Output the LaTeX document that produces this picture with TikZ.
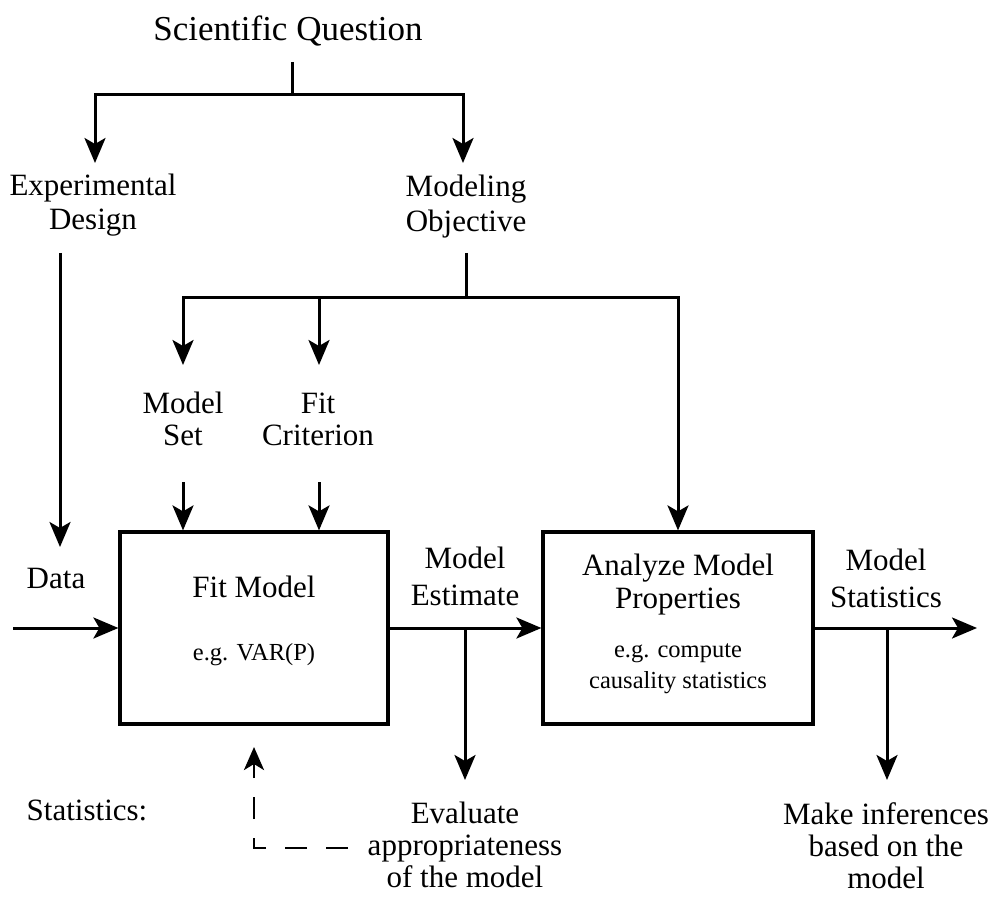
\documentclass[tikz,border=0pt]{standalone}
\usepackage{fontspec}
\setmainfont{Liberation Serif}
\usetikzlibrary{arrows.meta,calc}
\begin{document}
\begin{tikzpicture}[x=1pt,y=-1pt,
  lbl/.style={font=\fontsize{31}{34}\selectfont, align=center, anchor=base, inner sep=0pt},
  titlelbl/.style={font=\fontsize{35}{40}\selectfont, anchor=base, inner sep=0pt},
  smalllbl/.style={font=\fontsize{24.5}{31}\selectfont, align=center, anchor=base, inner sep=0pt},
  procbox/.style={draw, line width=3.2pt, inner sep=0pt},
  conn/.style={line width=3pt},
  arr/.style={conn, -{Stealth[length=25pt,width=21pt,inset=6pt]}},
  dasharr/.style={line width=2.9pt, dash pattern=on 22pt off 19pt, -{Stealth[length=23pt,width=20pt,inset=6pt]}}
]
\useasboundingbox (0,0) rectangle (995,901);

% boxes
\node[procbox, minimum width=268pt, minimum height=192pt] (fitbox) at (254,628) {};
\node[procbox, minimum width=270pt, minimum height=192pt] (anabox) at (678,628) {};

% labels (multi-line labels are placed by the baseline of their last line)
\node[titlelbl] (sq) at (288,41) {Scientific Question};
\node[lbl, font=\fontsize{31}{35}\selectfont] (ed) at (93,230) {Experimental\\Design};
\node[lbl, font=\fontsize{31}{35}\selectfont] (mo) at (466,232) {Modeling\\Objective};
\node[lbl, font=\fontsize{31}{32}\selectfont] (ms) at (183,445) {Model\\Set};
\node[lbl, font=\fontsize{31}{32}\selectfont] (fc) at (318,445) {Fit\\Criterion};
\node[lbl] (data) at (56,588) {Data};
\node[lbl] (fittitle) at (254,597) {Fit Model};
\node[smalllbl] (fiteg) at (254,660) {e.g. VAR(P)};
\node[lbl, font=\fontsize{31}{33}\selectfont] (anatitle) at (678,608) {Analyze Model\\Properties};
\node[smalllbl] (anaeg) at (678,688) {e.g. compute\\causality statistics};
\node[lbl, font=\fontsize{31}{37}\selectfont] (me) at (465,605) {Model\\Estimate};
\node[lbl, font=\fontsize{31}{37}\selectfont] (mstat) at (886,607) {Model\\Statistics};
\node[lbl, font=\fontsize{31}{32}\selectfont] (eval) at (465,887) {Evaluate\\appropriateness\\of the model};
\node[lbl, font=\fontsize{31}{32}\selectfont] (infer) at (886,888) {Make inferences\\based on the\\model};
\node[lbl] (stats) at (87,820) {Statistics:};

% junctions and free ends
\coordinate (sqb) at (292,62);
\coordinate (sqj) at (292,95);
\coordinate (edtip) at (95,163);
\coordinate (motip) at (463,163);
\coordinate (edb) at (60,253);
\coordinate (datatip) at (60,547);
\coordinate (mob) at (466,253);
\coordinate (moj) at (466,297);
\coordinate (mstip) at (183,365);
\coordinate (fctip) at (319,365);
\coordinate (msb) at (183,482);
\coordinate (fcb) at (319,482);
\coordinate (datain) at (13,628);
\coordinate (evalj) at (465,628);
\coordinate (evaltip) at (465,780);
\coordinate (statsout) at (977,628);
\coordinate (infj) at (887,628);
\coordinate (inftip) at (887,780);
\coordinate (dstart) at (348,848);
\coordinate (dcorner) at (254,848);
\coordinate (dtip) at (254,747);

% connectors
\draw[conn] (sqb) -- (sqj);
\draw[arr] (sqj) -| (edtip);
\draw[arr] (sqj) -| (motip);
\draw[arr] (edb) -- (datatip);
\draw[conn] (mob) -- (moj);
\draw[arr] (moj) -| (mstip);
\draw[arr] (moj) -| (fctip);
\draw[arr] (moj) -| (anabox.north);
\draw[arr] (msb) -- (msb |- fitbox.north);
\draw[arr] (fcb) -- (fcb |- fitbox.north);
\draw[arr] (datain) -- (fitbox.west);
\draw[arr] (fitbox.east) -- (anabox.west);
\draw[arr] (anabox.east) -- (statsout);
\draw[arr] (evalj) -- (evaltip);
\draw[arr] (infj) -- (inftip);
\draw[dasharr] (dstart) -- (dcorner) -- (dtip);
\end{tikzpicture}
\end{document}
